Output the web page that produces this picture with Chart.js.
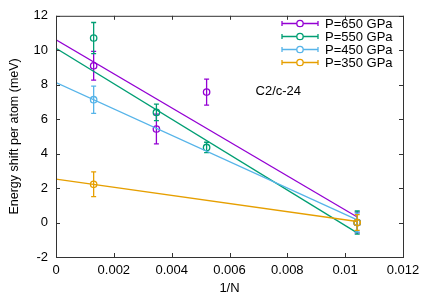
<!DOCTYPE html>
<html>
<head>
<meta charset="utf-8">
<script src="https://cdn.jsdelivr.net/npm/chart.js@4.4.0/dist/chart.umd.min.js"></script>
<style>
html, body { margin: 0; padding: 0; background: #fff; }
</style>
</head>
<body>
<canvas id="grafico" width="427" height="299"></canvas>
<script>
// 1/N values of the supercells
const invN = [1/768, 1/288, 1/192, 1/96];
const seriesLabels = ['P=650 GPa', 'P=550 GPa', 'P=450 GPa', 'P=350 GPa'];
const seriesColors = ['#9400d3', '#009e73', '#56b4e9', '#e69f00'];

// energy shift (meV) and error, null = no point
const e650 = [9.10, 5.43, 7.57, 0];
const err650 = [0.83, 0.86, 0.76, 0.6];
const e550 = [10.71, 6.39, 4.36, 0];
const err550 = [0.9, 0.48, 0.3, 0.67];
const e450 = [7.13, null, null, 0];
const err450 = [0.79, null, null, 0.55];
const e350 = [2.22, null, null, 0];
const err350 = [0.72, null, null, 0.46];

// fitted lines: value at 1/N = 0 and at 1/N = 1/96
const fitX = [0, 1/96];
const fit650 = [10.61, 0.32];
const fit550 = [10.12, -0.60];
const fit450 = [8.13, 0.15];
const fit350 = [2.52, 0.06];

const xTicks = [0, 0.002, 0.004, 0.006, 0.008, 0.01, 0.012];
const xTickLabels = ['0', '0.002', '0.004', '0.006', '0.008', '0.01', '0.012'];
const yTicks = [-2, 0, 2, 4, 6, 8, 10, 12];

const labelText = 'C2/c-24';
const labelPos = [0.0069, 7.6];

const valores = [e650, e550, e450, e350];
const erros = [err650, err550, err450, err350];
const fits = [fit650, fit550, fit450, fit350];

const fonte = '"Liberation Sans", Arial, sans-serif';
Chart.defaults.font.family = fonte;
Chart.defaults.font.size = 13;
Chart.defaults.color = '#000';

const datasets = [];
valores.forEach(function(serie, s) {
    const pontos = [];
    const barras = [];
    serie.forEach(function(v, i) {
        if (v === null) return;
        pontos.push({x: invN[i], y: v});
        barras.push(erros[s][i]);
    });
    datasets.push({
        label: seriesLabels[s],
        data: pontos,
        errors: barras,
        showLine: false,
        borderColor: seriesColors[s],
        backgroundColor: 'rgba(0,0,0,0)',
        pointRadius: 3.2,
        pointBorderWidth: 1.3,
        order: 20 - 2 * s
    });
    datasets.push({
        label: seriesLabels[s] + ' fit',
        data: fitX.map((x, i) => ({x: x, y: fits[s][i]})),
        showLine: true,
        borderColor: seriesColors[s],
        borderWidth: 1.3,
        pointRadius: 0,
        order: 19 - 2 * s
    });
});

// error bars drawn just before each point dataset
const errorBars = {
    id: 'errorBars',
    beforeDatasetDraw(chart, args) {
        const ds = chart.data.datasets[args.index];
        if (!ds.errors) return;
        const {ctx, scales: {x, y}} = chart;
        ctx.save();
        ctx.strokeStyle = ds.borderColor;
        ctx.lineWidth = 1.3;
        ds.data.forEach(function(p, i) {
            const px = x.getPixelForValue(p.x);
            const top = y.getPixelForValue(p.y + ds.errors[i]);
            const bot = y.getPixelForValue(p.y - ds.errors[i]);
            ctx.beginPath();
            ctx.moveTo(px, top); ctx.lineTo(px, bot);
            ctx.moveTo(px - 2.5, top); ctx.lineTo(px + 2.5, top);
            ctx.moveTo(px - 2.5, bot); ctx.lineTo(px + 2.5, bot);
            ctx.stroke();
        });
        ctx.restore();
    }
};

// gnuplot style frame, inward ticks, key and label
const moldura = {
    id: 'moldura',
    afterDraw(chart) {
        const {ctx, chartArea: a, scales: {x, y}} = chart;
        ctx.save();
        ctx.strokeStyle = '#333';
        ctx.lineWidth = 1;
        ctx.strokeRect(a.left + 0.5, a.top + 0.5, a.right - a.left, a.bottom - a.top);
        ctx.beginPath();
        xTicks.forEach(function(v) {
            const px = Math.round(x.getPixelForValue(v)) + 0.5;
            ctx.moveTo(px, a.bottom); ctx.lineTo(px, a.bottom - 4);
            ctx.moveTo(px, a.top); ctx.lineTo(px, a.top + 4);
        });
        yTicks.forEach(function(v) {
            const py = Math.round(y.getPixelForValue(v)) + 0.5;
            ctx.moveTo(a.left, py); ctx.lineTo(a.left + 4, py);
            ctx.moveTo(a.right, py); ctx.lineTo(a.right - 4, py);
        });
        ctx.stroke();

        // key
        ctx.font = '13px ' + fonte;
        ctx.textBaseline = 'middle';
        ctx.textAlign = 'left';
        seriesLabels.forEach(function(txt, s) {
            const ly = 23.5 + s * 13;
            ctx.strokeStyle = seriesColors[s];
            ctx.lineWidth = 1.3;
            ctx.beginPath();
            ctx.moveTo(282, ly); ctx.lineTo(318, ly);
            ctx.moveTo(282, ly - 2.5); ctx.lineTo(282, ly + 2.5);
            ctx.moveTo(318, ly - 2.5); ctx.lineTo(318, ly + 2.5);
            ctx.stroke();
            ctx.beginPath();
            ctx.fillStyle = '#fff';
            ctx.arc(300, ly, 3.2, 0, Math.PI * 2);
            ctx.fill();
            ctx.stroke();
            ctx.fillStyle = '#000';
            ctx.fillText(txt, 325, ly + 0.5);
        });

        ctx.fillStyle = '#000';
        ctx.fillText(labelText, x.getPixelForValue(labelPos[0]), y.getPixelForValue(labelPos[1]));
        ctx.restore();
    }
};

new Chart(document.getElementById('grafico'), {
    type: 'scatter',
    data: { datasets: datasets },
    options: {
        responsive: false,
        animation: false,
        layout: { padding: { top: 13, right: 24, left: 0, bottom: 0 } },
        plugins: {
            legend: { display: false },
            tooltip: { enabled: false }
        },
        scales: {
            x: {
                type: 'linear',
                min: 0,
                max: 0.012,
                afterBuildTicks: function(scale) {
                    scale.ticks = xTicks.map(v => ({value: v}));
                },
                afterFit: function(scale) { scale.height = 42; },
                ticks: {
                    padding: 6,
                    maxRotation: 0,
                    callback: function(value, index) { return xTickLabels[index]; }
                },
                grid: { display: false, drawTicks: false },
                border: { display: false },
                title: { display: true, text: '1/N', padding: { top: 0, bottom: 3 } }
            },
            y: {
                min: -2,
                max: 12,
                afterBuildTicks: function(scale) {
                    scale.ticks = yTicks.map(v => ({value: v}));
                },
                afterFit: function(scale) { scale.width = 56; },
                ticks: { padding: 8 },
                grid: { display: false, drawTicks: false },
                border: { display: false },
                title: {
                    display: true,
                    text: 'Energy shift per atom (meV)',
                    font: { size: 12.5 },
                    padding: { top: 7, bottom: 0 }
                }
            }
        }
    },
    plugins: [errorBars, moldura]
});
</script>
</body>
</html>
